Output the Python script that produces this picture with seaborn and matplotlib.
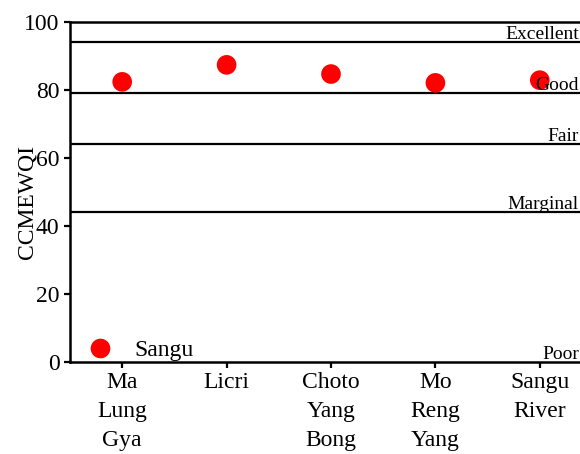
import matplotlib
matplotlib.use("Agg")
from matplotlib import pyplot as plt
from matplotlib import transforms
import seaborn as sns
import pandas as pd

# data
sites = ["Ma\nLung\nGya", "Licri", "Choto\nYang\nBong", "Mo\nReng\nYang", "Sangu\nRiver"]
ccmewqi = [82.4, 87.4, 84.7, 82.1, 82.9]

# water quality class boundaries and labels
class_bounds = [94, 79, 64, 44, 0]
class_names = ["Excellent", "Good", "Fair", "Marginal", "Poor"]

sns.set_style("ticks", {"axes.edgecolor": "black", "xtick.color": "black",
                        "ytick.color": "black", "text.color": "black",
                        "axes.labelcolor": "black"})
plt.rcParams["font.family"] = ["Liberation Serif", "DejaVu Serif"]

df = pd.DataFrame({"site": sites, "CCMEWQI": ccmewqi, "river": "Sangu"})

fig = plt.figure(figsize=(5.8, 4.54), dpi=100)
ax = fig.add_axes([0.1207, 0.2026, 0.9, 0.7489])

sns.scatterplot(data=df, x="site", y="CCMEWQI", hue="river", palette=["#ff0000"],
                s=200, edgecolor="none", ax=ax, zorder=3)

# class labels sit at the right edge, just above each boundary line
trans = transforms.blended_transform_factory(fig.transFigure, ax.transData)
for b, name in zip(class_bounds, class_names):
    if b > 0:
        ax.axhline(b, color="black", lw=1.6, zorder=1)
    ax.text(0.998, b + 1.0, name, ha="right", va="baseline", fontsize=14,
            transform=trans, clip_on=False, zorder=4)

ax.set_xlim(-0.5, 4.5)
ax.set_ylim(0, 100)
ax.set_yticks([0, 20, 40, 60, 80, 100])
ax.set_xlabel("")
ax.set_ylabel("CCMEWQI", fontsize=17)
ax.yaxis.set_label_coords(-0.063, 0.47)
ax.tick_params(axis="both", labelsize=17, width=1.6, length=4.5, direction="out", pad=3,
               colors="black")
for lab in ax.get_xticklabels():
    lab.set_linespacing(1.5)
for side in ["left", "bottom", "top"]:
    ax.spines[side].set_linewidth(1.8)
    ax.spines[side].set_color("black")
ax.spines["right"].set_visible(False)

leg = ax.legend(loc="lower left", frameon=False, fontsize=17, handletextpad=0.45,
                borderaxespad=0, bbox_to_anchor=(-0.005, -0.026))

fig.savefig("out.png", dpi=100)
